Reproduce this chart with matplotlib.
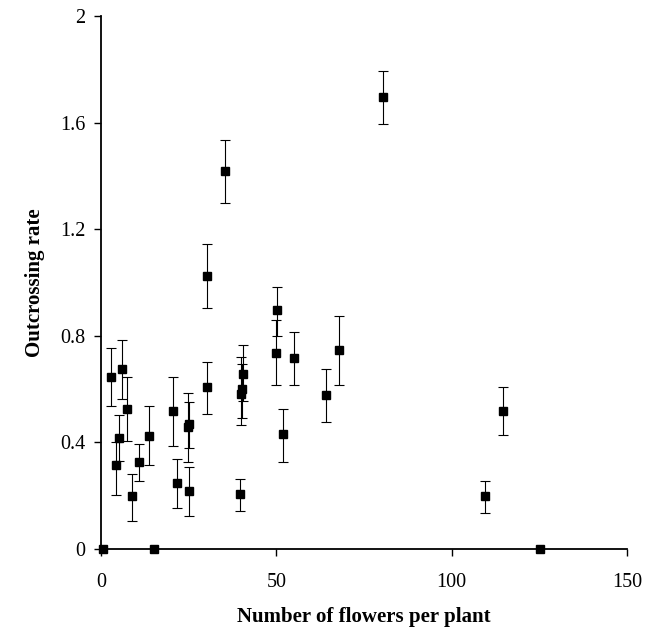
import matplotlib
matplotlib.use("Agg")
import matplotlib.pyplot as plt
import numpy as np

# flowers per plant, outcrossing rate, lower and upper error limits
flowers = [0.7, 15.2, 125.1,
           2.9, 5.9, 7.3, 5.1, 4.2, 8.9, 10.8, 13.6,
           20.4, 21.8, 24.8, 25.0, 25.2,
           30.1, 30.3, 35.4,
           39.7, 39.9, 40.2, 40.5,
           50.1, 49.9, 51.8, 55.1, 64.3, 68.0, 80.3,
           109.5, 114.6]
rate = [0.0, 0.0, 0.0,
        0.645, 0.677, 0.526, 0.418, 0.317, 0.197, 0.326, 0.425,
        0.517, 0.247, 0.457, 0.47, 0.217,
        0.607, 1.025, 1.418,
        0.206, 0.58, 0.60, 0.658,
        0.896, 0.736, 0.43, 0.717, 0.576, 0.746, 1.696,
        0.197, 0.518]
lower = [0.0, 0.0, 0.0,
         0.535, 0.564, 0.406, 0.33, 0.203, 0.104, 0.256, 0.316,
         0.385, 0.153, 0.326, 0.38, 0.124,
         0.505, 0.903, 1.30,
         0.144, 0.466, 0.49, 0.555,
         0.80, 0.617, 0.326, 0.617, 0.475, 0.615, 1.595,
         0.135, 0.426]
upper = [0.0, 0.0, 0.0,
         0.755, 0.783, 0.644, 0.504, 0.40, 0.283, 0.394, 0.535,
         0.645, 0.336, 0.585, 0.55, 0.307,
         0.703, 1.145, 1.536,
         0.264, 0.72, 0.695, 0.764,
         0.984, 0.858, 0.524, 0.815, 0.675, 0.873, 1.794,
         0.254, 0.607]

xticks = [0, 50, 100, 150]
yticks = [0, 0.4, 0.8, 1.2, 1.6, 2]
ytick_labels = ["0", "0.4", "0.8", "1.2", "1.6", "2"]

plt.rcParams['font.family'] = ['Liberation Serif', 'DejaVu Serif']

fig = plt.figure(figsize=(6.53, 6.32), dpi=100)
ax = fig.add_axes([101/653, 83/632, (627-101)/653, (549-16)/632])

r = np.array(rate)
yerr = np.vstack([r - np.array(lower), np.array(upper) - r])
has_err = (yerr.sum(axis=0) > 0)
fx = np.array(flowers)
ax.errorbar(fx[has_err], r[has_err], yerr=yerr[:, has_err], fmt='none',
            ecolor='black', elinewidth=0.8, capsize=3.5, capthick=0.8, zorder=2)
ax.plot(fx, r, linestyle='none', marker='s', markersize=5.5,
        color='black', zorder=3, clip_on=False)

ax.set_xlim(0, 150)
ax.set_ylim(0, 2)
ax.set_xticks(xticks)
ax.set_yticks(yticks)
ax.set_yticklabels(ytick_labels)
ax.spines['top'].set_visible(False)
ax.spines['right'].set_visible(False)
ax.spines['left'].set_linewidth(1.3)
ax.spines['bottom'].set_linewidth(1.3)
ax.tick_params(axis='both', direction='out', length=5, width=1, labelsize=14.5)
ax.tick_params(axis='x', pad=12)
ax.tick_params(axis='y', pad=6)

ax.set_xlabel("Number of flowers per plant", fontsize=15, fontweight='bold', labelpad=11)
ax.set_ylabel("Outcrossing rate", fontsize=15, fontweight='bold', labelpad=11)

fig.savefig("out.png", dpi=100, facecolor='white')
